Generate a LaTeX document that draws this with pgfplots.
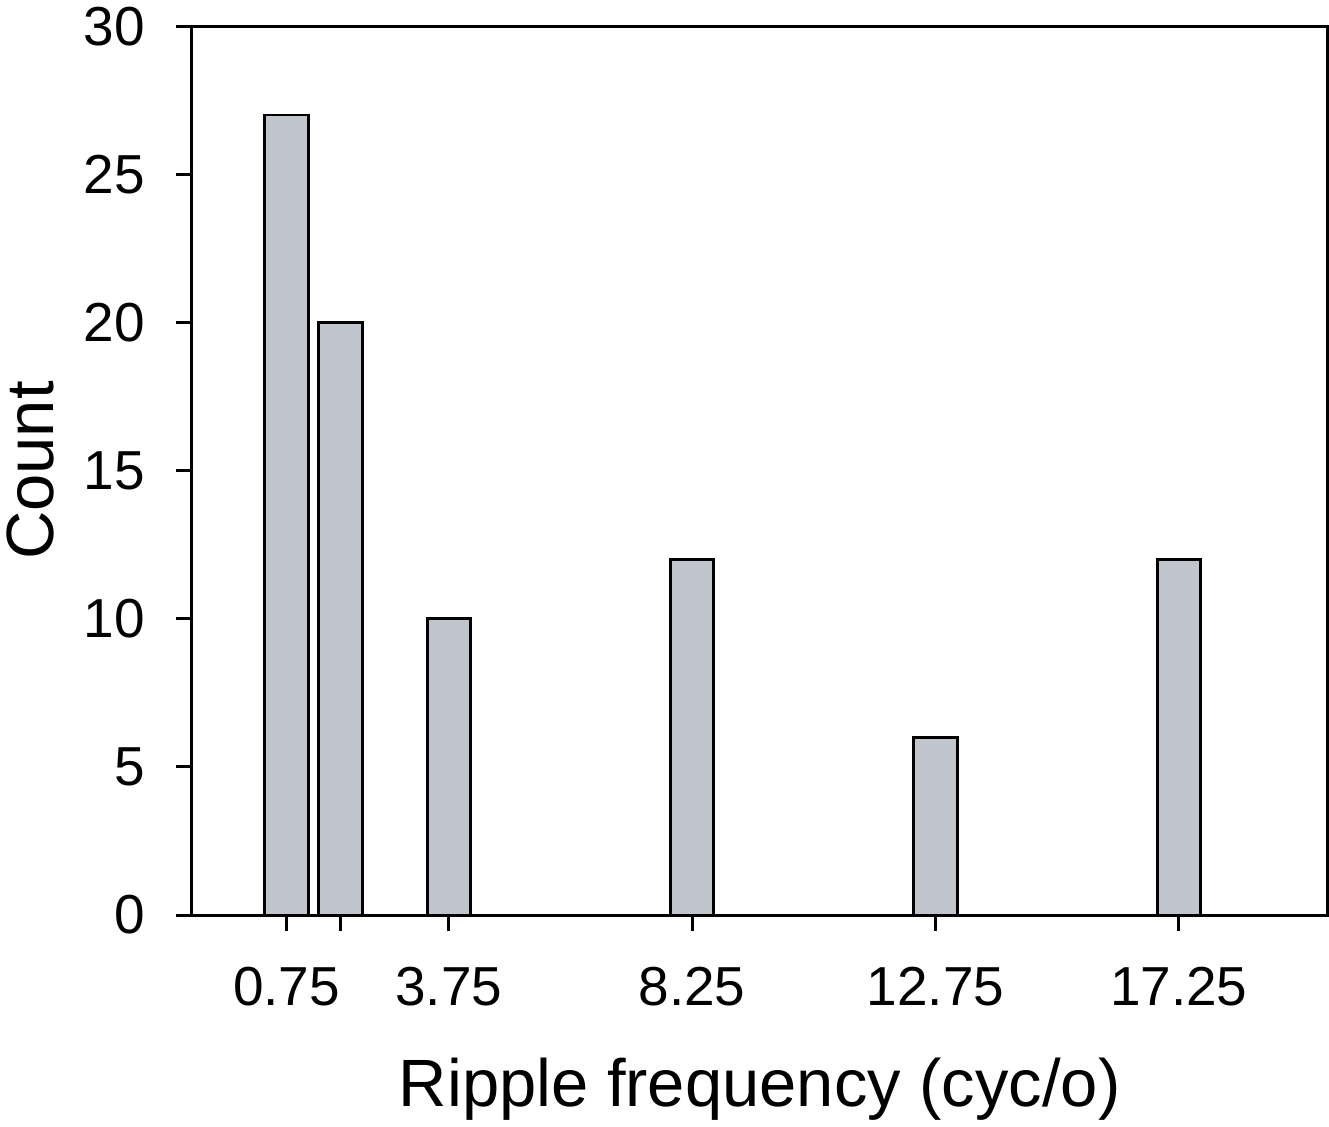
\documentclass[border=0pt]{standalone}
\usepackage{pgfplots}
\pgfplotsset{compat=1.18}
\usepackage{fontspec}
\setmainfont{Liberation Sans}
\definecolor{barfill}{RGB}{192,196,204}
\begin{document}
\begin{tikzpicture}
\begin{axis}[
  scale only axis,
  width=568.5pt, height=445pt,
  xmin=-1, xmax=20,
  ymin=0, ymax=30,
  axis line style={line width=1.5pt},
  ybar, bar width=0.8,
  xtick={0.75,1.75,3.75,8.25,12.75,17.25},
  xticklabels={0.75,,3.75,8.25,12.75,17.25},
  ytick={0,5,10,15,20,25,30},
  tick align=outside,
  xtick pos=bottom, ytick pos=left,
  major tick length=8pt,
  tick style={line width=1.5pt, black},
  /pgf/number format/assume math mode=true,
  ticklabel style={font=\fontsize{27.5}{31}\selectfont},
  label style={font=\fontsize{33.5}{38}\selectfont},
  xlabel={Ripple frequency (cyc/o)},
  ylabel={Count},
  xticklabel style={yshift=-14.5pt},
  yticklabel style={xshift=-12pt},
  xlabel style={yshift=-19pt},
  ylabel style={yshift=8pt},
]
\addplot[fill=barfill, draw=black, line width=1.5pt] coordinates {
  (0.75,27) (1.75,20) (3.75,10) (8.25,12) (12.75,6) (17.25,12)
};
\end{axis}
\end{tikzpicture}
\end{document}
